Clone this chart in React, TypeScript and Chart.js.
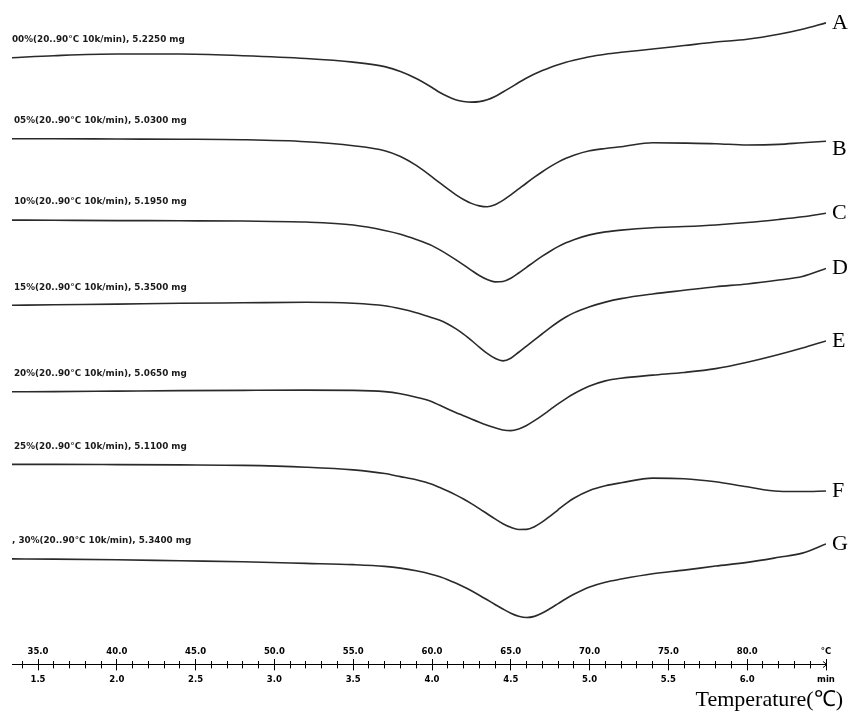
import React, { useEffect, useRef } from "react";
import { Chart, registerables } from "chart.js";

Chart.register(...registerables);

// Temperature grid (°C) at which each DSC trace was read
const temperatures = [
  33.35, 36, 40, 44, 48, 52, 55, 57, 58, 59, 60, 60.5, 61, 61.5, 62, 62.5, 63, 63.5, 64, 64.5,
  65, 65.5, 66, 66.5, 67, 67.5, 68, 68.5, 69, 70, 71, 72, 74, 76, 78, 80, 82, 83.5, 85,
];

// Heat flow (arbitrary units, curves offset vertically, endotherm down)
const curveA = [
  -5.8, -5.6, -5.43, -5.43, -5.6, -5.88, -6.25, -6.7, -7.2, -7.9, -8.8, -9.3, -9.7, -10.02, -10.2,
  -10.27, -10.22, -10.03, -9.7, -9.25, -8.78, -8.3, -7.85, -7.45, -7.1, -6.78, -6.5, -6.26, -6.06, -5.7,
  -5.45, -5.26, -4.93, -4.58, -4.23, -3.95, -3.45, -2.95, -2.3,
];
const curveB = [
  -13.95, -13.95, -13.98, -14, -14.05, -14.25, -14.65, -15.15, -15.73, -16.63, -17.78, -18.4, -19,
  -19.57, -20.06, -20.45, -20.7, -20.79, -20.58, -20.15, -19.6, -19, -18.4, -17.82, -17.27, -16.76,
  -16.3, -15.91, -15.6, -15.16, -14.93, -14.76, -14.36, -14.39, -14.45, -14.58, -14.52, -14.35, -14.2,
];
const curveC = [
  -22.13, -22.15, -22.18, -22.2, -22.23, -22.33, -22.63, -23.17, -23.55, -24.08, -24.7, -25.13, -25.6,
  -26.1, -26.63, -27.18, -27.7, -28.1, -28.34, -28.3, -27.98, -27.45, -26.88, -26.3, -25.76, -25.26,
  -24.8, -24.42, -24.1, -23.62, -23.32, -23.14, -22.9, -22.78, -22.62, -22.38, -22.07, -21.8, -21.45,
];
const curveD = [
  -30.7, -30.65, -30.58, -30.5, -30.45, -30.4, -30.5, -30.75, -31.05, -31.45, -31.95, -32.2, -32.58,
  -33.05, -33.6, -34.23, -34.9, -35.53, -36.03, -36.29, -36.02, -35.42, -34.8, -34.18, -33.56, -32.95,
  -32.38, -31.88, -31.46, -30.85, -30.38, -30.03, -29.56, -29.19, -28.83, -28.55, -28.16, -27.81, -27,
];
const curveE = [
  -39.4, -39.38, -39.33, -39.28, -39.25, -39.23, -39.25, -39.38, -39.6, -39.95, -40.4, -40.76, -41.12,
  -41.47, -41.8, -42.13, -42.45, -42.75, -43.02, -43.23, -43.3, -43.13, -42.78, -42.3, -41.76, -41.19,
  -40.62, -40.08, -39.6, -38.82, -38.3, -38.03, -37.72, -37.45, -37.07, -36.43, -35.65, -35, -34.28,
];
const curveF = [
  -46.7, -46.7, -46.72, -46.75, -46.8, -46.98, -47.25, -47.62, -47.93, -48.25, -48.7, -49.03, -49.38,
  -49.76, -50.18, -50.64, -51.14, -51.66, -52.18, -52.66, -53.03, -53.24, -53.23, -52.96, -52.48, -51.89,
  -51.26, -50.65, -50.1, -49.32, -48.85, -48.55, -48.08, -48.14, -48.45, -48.95, -49.4, -49.43, -49.37,
];
const curveG = [
  -56.2, -56.22, -56.28, -56.39, -56.49, -56.65, -56.78, -56.95, -57.13, -57.4, -57.76, -58, -58.29,
  -58.63, -59, -59.41, -59.85, -60.31, -60.78, -61.24, -61.66, -61.97, -62.1, -61.98, -61.64, -61.19,
  -60.7, -60.21, -59.76, -59.02, -58.54, -58.23, -57.7, -57.33, -56.92, -56.55, -56.04, -55.62, -54.7,
];

const curveNames = ["A", "B", "C", "D", "E", "F", "G"];
const sampleLabels = [
  "00%(20..90°C 10k/min), 5.2250 mg",
  "05%(20..90°C 10k/min), 5.0300 mg",
  "10%(20..90°C 10k/min), 5.1950 mg",
  "15%(20..90°C 10k/min), 5.3500 mg",
  "20%(20..90°C 10k/min), 5.0650 mg",
  "25%(20..90°C 10k/min), 5.1100 mg",
  ", 30%(20..90°C 10k/min), 5.3400 mg",
];

// Axis ticks
const allTickTemps = [
  34, 35, 36, 37, 38, 39, 40, 41, 42, 43, 44, 45, 46, 47, 48, 49, 50, 51, 52, 53, 54, 55, 56, 57, 58, 59,
  60, 61, 62, 63, 64, 65, 66, 67, 68, 69, 70, 71, 72, 73, 74, 75, 76, 77, 78, 79, 80, 81, 82, 83, 84, 85,
];
const majorTickTemps = [35, 40, 45, 50, 55, 60, 65, 70, 75, 80, 85];
const temperatureTickLabels = ["35.0", "40.0", "45.0", "50.0", "55.0", "60.0", "65.0", "70.0", "75.0", "80.0", "°C"];
const minuteTickLabels = ["1.5", "2.0", "2.5", "3.0", "3.5", "4.0", "4.5", "5.0", "5.5", "6.0", "min"];
const axisTitle = "Temperature(℃)";

const X_MIN = 33.35;
const X_MAX = 85;

const curves = [curveA, curveB, curveC, curveD, curveE, curveF, curveG];

const annotatePlugin = {
  id: "dscAnnotate",
  afterDatasetsDraw(chart: any) {
    const ctx = chart.ctx as CanvasRenderingContext2D;
    const area = chart.chartArea;
    ctx.save();
    chart.data.datasets.forEach((_ds: any, i: number) => {
      const meta = chart.getDatasetMeta(i);
      const first = meta.data[0];
      const last = meta.data[meta.data.length - 1];
      ctx.font = 'bold 8.8px "DejaVu Sans"';
      ctx.fillStyle = "#1a1a1a";
      ctx.textAlign = "left";
      ctx.textBaseline = "middle";
      ctx.fillText(sampleLabels[i], area.left + (i === 0 || i === 6 ? 0 : 2), first.y - 18);
      ctx.font = '22px "Liberation Serif"';
      ctx.fillStyle = "#000";
      ctx.fillText(curveNames[i], last.x + 6, last.y + (i === 1 ? 8 : 0));
    });
    // axis title
    ctx.font = '22px "Liberation Serif"';
    ctx.fillStyle = "#000";
    ctx.textAlign = "right";
    ctx.textBaseline = "alphabetic";
    ctx.fillText(axisTitle, chart.width - 10, 706);
    // arrow head at end of axis line
    const line = chart.scales.xLine;
    const ax = Math.round(line.right) + 1;
    const ay = Math.round(line.top) + 0.5;
    ctx.strokeStyle = "#000";
    ctx.lineWidth = 1;
    ctx.beginPath();
    ctx.moveTo(ax - 4, ay - 3);
    ctx.lineTo(ax, ay);
    ctx.lineTo(ax - 4, ay + 3);
    ctx.stroke();
    ctx.restore();
  },
};

const labelFont = { family: "DejaVu Sans", size: 8.5, weight: "bold" as const };

function tickSetter(values: number[]) {
  return (axis: any) => {
    axis.ticks = values.map((v) => ({ value: v }));
  };
}

function tickOnlyAxis(weight: number, length: number, values: number[], border = false) {
  return {
    type: "linear" as const,
    position: "bottom" as const,
    weight,
    min: X_MIN,
    max: X_MAX,
    afterBuildTicks: tickSetter(values),
    grid: { display: true, drawOnChartArea: false, drawTicks: true, tickLength: length, color: "#000", lineWidth: 1 },
    border: { display: border, color: "#000", width: 1 },
    ticks: { display: false },
  };
}

export default function App() {
  const canvasRef = useRef<HTMLCanvasElement | null>(null);

  useEffect(() => {
    if (!canvasRef.current) return;
    const chart = new Chart(canvasRef.current, {
      type: "line",
      data: {
        datasets: curves.map((values, i) => ({
          label: curveNames[i],
          data: temperatures.map((t, k) => ({ x: t, y: values[k] })),
          borderColor: "#2a2a2a",
          borderWidth: 1.6,
          pointRadius: 0,
          fill: false,
          cubicInterpolationMode: "monotone" as const,
          xAxisID: "x",
          yAxisID: "y",
        })),
      },
      options: {
        responsive: false,
        animation: false,
        devicePixelRatio: 1,
        layout: { padding: { left: 12, right: 27, top: 0, bottom: 25.6 } },
        plugins: { legend: { display: false }, tooltip: { enabled: false } },
        scales: {
          x: {
            type: "linear",
            position: "bottom",
            weight: 0,
            min: X_MIN,
            max: X_MAX,
            afterBuildTicks: tickSetter(majorTickTemps),
            grid: { display: false, drawTicks: false },
            border: { display: false },
            ticks: {
              autoSkip: false,
              maxRotation: 0,
              minRotation: 0,
              padding: 0,
              color: "#000",
              font: { ...labelFont, lineHeight: 14.58 / 8.5 },
              callback: (v: any) => {
                const k = majorTickTemps.indexOf(Number(v));
                return k >= 0 ? temperatureTickLabels[k] : "";
              },
            },
          },
          xUpMajor: tickOnlyAxis(1, 2, majorTickTemps),
          xUpAll: tickOnlyAxis(2, 3, allTickTemps),
          xLine: tickOnlyAxis(3, 4, allTickTemps, true),
          xDownMajor: tickOnlyAxis(4, 2, majorTickTemps),
          xMin: {
            type: "linear",
            position: "bottom",
            weight: 5,
            min: X_MIN,
            max: X_MAX,
            afterBuildTicks: tickSetter(majorTickTemps),
            grid: { display: false, drawTicks: false },
            border: { display: false },
            ticks: {
              autoSkip: false,
              maxRotation: 0,
              minRotation: 0,
              padding: 3.6,
              color: "#000",
              font: { ...labelFont, lineHeight: 10.8 / 8.5 },
              callback: (v: any) => {
                const k = majorTickTemps.indexOf(Number(v));
                return k >= 0 ? minuteTickLabels[k] : "";
              },
            },
          },
          y: { type: "linear", display: false, min: -64.84, max: 0 },
        },
      } as any,
      plugins: [annotatePlugin],
    });
    return () => chart.destroy();
  }, []);

  return (
    <div style={{ position: "absolute", left: 0, top: 0, width: 853, height: 714, background: "#fff" }}>
      <canvas ref={canvasRef} width={853} height={714} style={{ display: "block" }} />
    </div>
  );
}
